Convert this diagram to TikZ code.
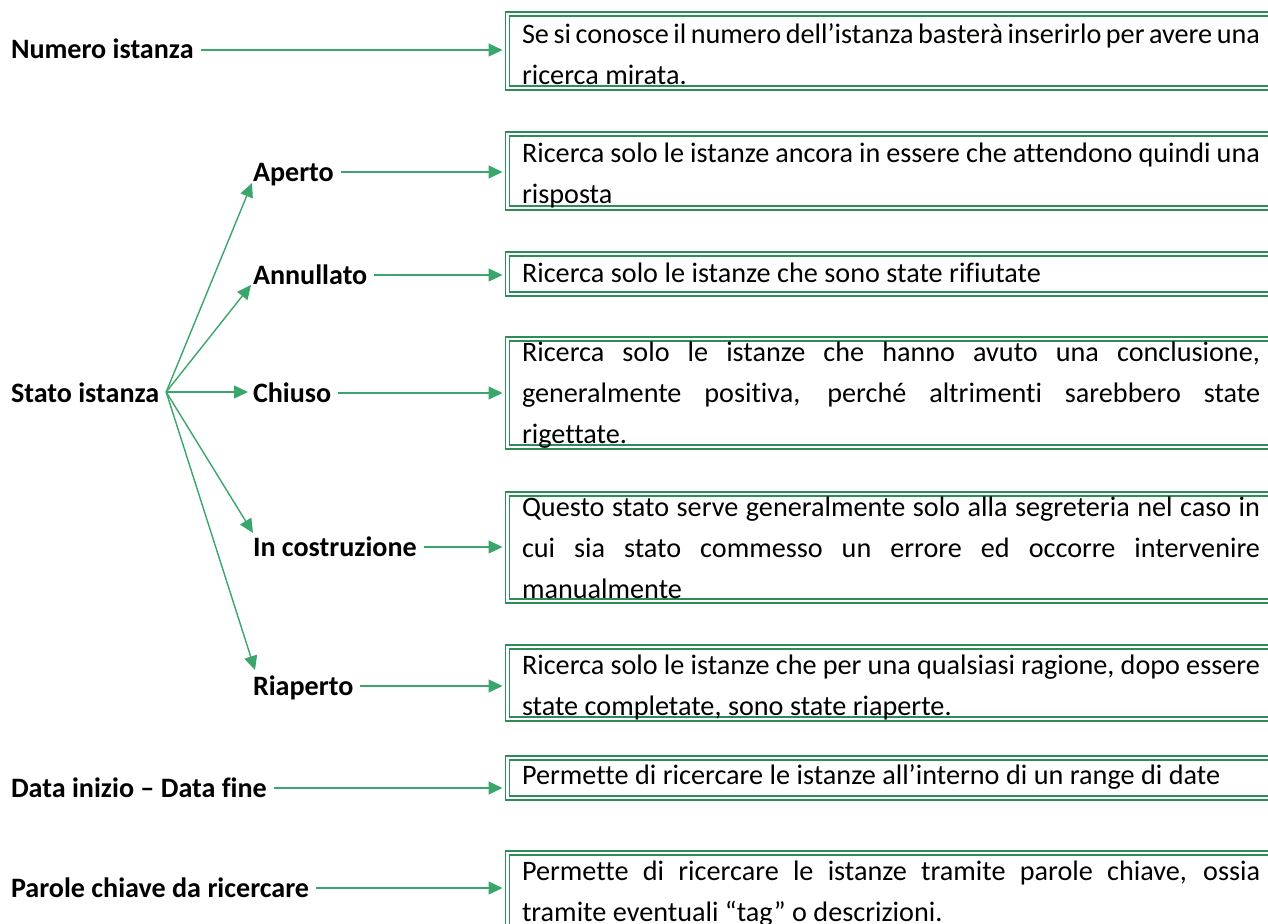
\documentclass[tikz,border=0pt]{standalone}
\usepackage{fontspec}
\setmainfont{Carlito}[Ligatures=NoCommon]
\usetikzlibrary{arrows.meta,calc}
\definecolor{arrowgreen}{RGB}{58,166,107}
\definecolor{boxgreen}{RGB}{46,140,88}
\newcommand{\descsetup}{\hyphenpenalty=10000\relax\exhyphenpenalty=10000\relax\spaceskip=.23em plus .35em minus .1em\relax}
\begin{document}
\begin{tikzpicture}[x=1pt,y=-1pt,
 lbl/.style={font=\bfseries\fontsize{28.1}{34}\selectfont, anchor=west, inner sep=0pt, outer sep=0pt, text height=18pt, text depth=0pt},
 arr/.style={draw=arrowgreen, line width=1.4pt, -{Triangle[length=14pt,width=13pt]}, shorten <=7pt, shorten >=5pt},
 fanarr/.style={draw=arrowgreen, line width=1.4pt, -{Triangle[length=14pt,width=13pt]}},
 frame/.style={draw=boxgreen, double, double distance=2.4pt, line width=1.4pt, minimum width=900pt, anchor=west, inner sep=0pt, outer sep=0pt},
 desc/.style={anchor=north west, inner sep=0pt, outer sep=0pt, text width=738pt, align=justify, font=\fontsize{28.2}{41}\selectfont}]

\clip (0,0) rectangle (1268,923);
\fill[white] (0,0) rectangle (1268,923);

% frames
\node[frame, minimum height=74pt] (b1) at (507.5,51) {};
\node[frame, minimum height=74pt] (b2) at (507.5,171) {};
\node[frame, minimum height=40pt] (b3) at (507.5,274) {};
\node[frame, minimum height=108pt] (b4) at (507.5,393) {};
\node[frame, minimum height=107pt] (b5) at (507.5,547.5) {};
\node[frame, minimum height=72pt] (b6) at (507.5,683) {};
\node[frame, minimum height=40pt] (b7) at (507.5,778) {};
\node[frame, minimum height=74pt] (b8) at (507.5,890) {};

% texts
\node[desc] (t1) at (522,15) {\descsetup\strut Se si conosce il numero dell’istanza basterà inserirlo per avere una\linebreak ricerca mirata.};
\node[desc] (t2) at (522,134) {\descsetup\strut Ricerca solo le istanze ancora in essere che attendono quindi una\linebreak risposta};
\node[desc] (t3) at (522,254) {\descsetup\strut Ricerca solo le istanze che sono state rifiutate};
\node[desc] (t4) at (522,333) {\descsetup\strut Ricerca solo le istanze che hanno avuto una conclusione,\linebreak generalmente positiva, perché altrimenti sarebbero state\linebreak rigettate.};
\node[desc] (t5) at (522,488) {\descsetup\strut Questo stato serve generalmente solo alla segreteria nel caso in\linebreak cui sia stato commesso un errore ed occorre intervenire\linebreak manualmente};
\node[desc] (t6) at (522,646) {\descsetup\strut Ricerca solo le istanze che per una qualsiasi ragione, dopo essere\linebreak state completate, sono state riaperte.};
\node[desc] (t7) at (522,756) {\descsetup\strut Permette di ricercare le istanze all’interno di un range di date};
\node[desc] (t8) at (522,852) {\descsetup\strut Permette di ricercare le istanze tramite parole chiave, ossia\linebreak tramite eventuali “tag” o descrizioni.};

% labels
\node[lbl] (num) at (11,50) {Numero istanza};
\node[lbl] (stato) at (11,393) {Stato istanza};
\node[lbl] (ape) at (253,172) {Aperto};
\node[lbl] (ann) at (253,275) {Annullato};
\node[lbl] (chi) at (253,393) {Chiuso};
\node[lbl] (cos) at (253,547) {In costruzione};
\node[lbl] (ria) at (253,686) {Riaperto};
\node[lbl] (dat) at (11,788) {Data inizio – Data fine};
\node[lbl] (par) at (11,888) {Parole chiave da ricercare};

% horizontal connectors
\draw[arr] (num.east) -- (num.east -| b1.west);
\draw[arr] (ape.east) -- (ape.east -| b2.west);
\draw[arr] (ann.east) -- (ann.east -| b3.west);
\draw[arr] (chi.east) -- (chi.east -| b4.west);
\draw[arr] (cos.east) -- (cos.east -| b5.west);
\draw[arr] (ria.east) -- (ria.east -| b6.west);
\draw[arr] (dat.east) -- (dat.east -| b7.west);
\draw[arr] (par.east) -- (par.east -| b8.west);

% fan
\coordinate (fan) at ($(stato.east)+(7,-1)$);
\draw[fanarr] (fan) -- ($(ape.south west)+(-1,2)$);
\draw[fanarr] (fan) -- ($(ann.south west)+(-2,1)$);
\draw[fanarr] (fan) -- ($(chi.west)+(-5,-1)$);
\draw[fanarr] (fan) -- ($(cos.north west)+(0,-5)$);
\draw[fanarr] (fan) -- ($(ria.north west)+(2,-7)$);
\end{tikzpicture}
\end{document}
